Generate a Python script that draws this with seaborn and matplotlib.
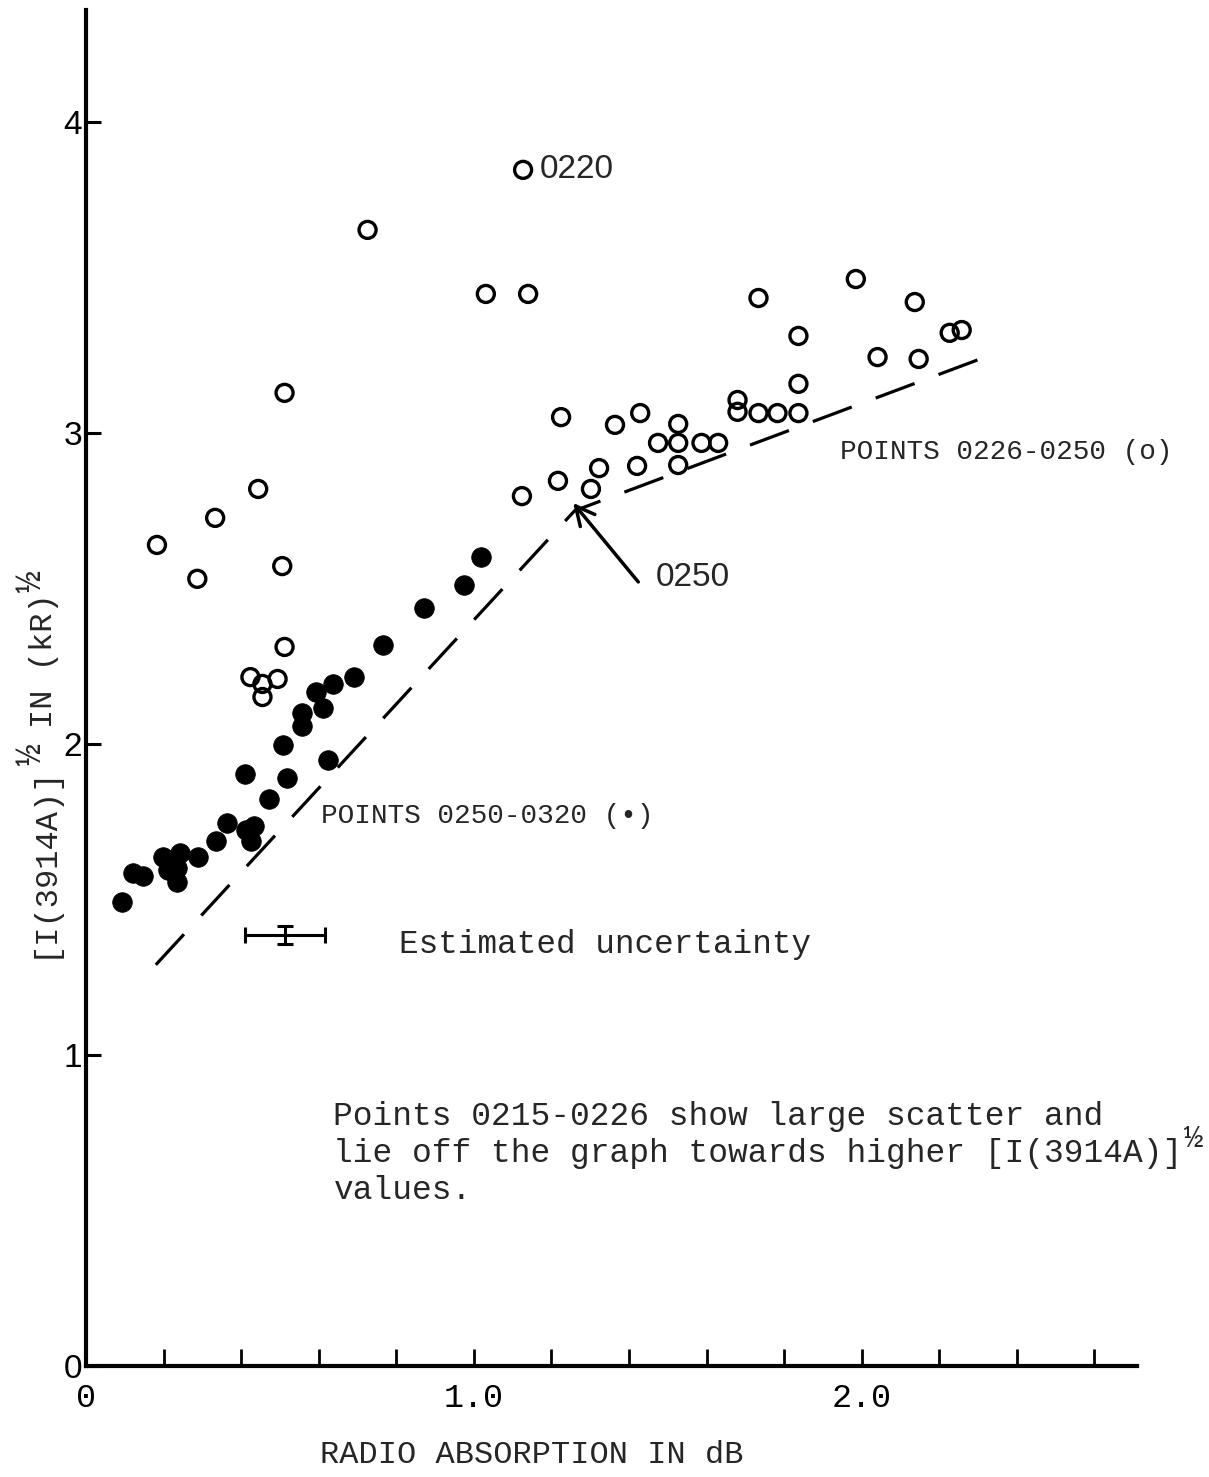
import matplotlib
matplotlib.use("Agg")
import matplotlib.pyplot as plt
import matplotlib.transforms as mtransforms
import seaborn as sns
import pandas as pd

# ---------------- data ----------------
open_x = [1.127, 0.726, 1.031, 1.140, 0.512, 0.444, 0.333, 0.183, 0.287, 0.506,
          0.512, 0.424, 0.455, 0.455, 0.494,
          1.225, 1.124, 1.217, 1.302, 1.323, 1.364, 1.429, 1.421, 1.475, 1.527,
          1.527, 1.527, 1.587, 1.630, 1.680, 1.680, 1.734, 1.783, 1.837, 1.837,
          1.837, 1.734, 1.985, 2.041, 2.137, 2.147, 2.227, 2.258]
open_y = [3.846, 3.653, 3.447, 3.447, 3.129, 2.820, 2.727, 2.640, 2.531, 2.572,
          2.312, 2.215, 2.193, 2.151, 2.209,
          3.051, 2.797, 2.846, 2.820, 2.887, 3.026, 3.064, 2.894, 2.968, 2.968,
          3.029, 2.897, 2.968, 2.968, 3.106, 3.068, 3.064, 3.064, 3.064, 3.158,
          3.312, 3.434, 3.495, 3.244, 3.421, 3.238, 3.322, 3.331]

filled_x = [0.093, 0.121, 0.147, 0.199, 0.212, 0.243, 0.235, 0.235, 0.289, 0.336,
            0.364, 0.413, 0.432, 0.426, 0.411, 0.473, 0.509, 0.517, 0.556, 0.556,
            0.594, 0.612, 0.636, 0.625, 0.690, 0.767, 0.871, 0.974, 1.018]
filled_y = [1.492, 1.585, 1.576, 1.637, 1.595, 1.649, 1.601, 1.556, 1.637, 1.688,
            1.746, 1.723, 1.736, 1.688, 1.904, 1.823, 1.997, 1.891, 2.100, 2.058,
            2.167, 2.116, 2.193, 1.949, 2.215, 2.318, 2.437, 2.511, 2.601]

line_x = [0.18, 1.26, 2.31]
line_y = [1.29, 2.75, 3.24]

x_ticks = [0, 0.2, 0.4, 0.6, 0.8, 1.0, 1.2, 1.4, 1.6, 1.8, 2.0, 2.2, 2.4, 2.6]
x_tick_labels = ["0", "", "", "", "", "1.0", "", "", "", "", "2.0", "", "", ""]
y_ticks = [0, 1, 2, 3, 4]
y_tick_labels = ["0", "1", "2", "3", "4"]

unc_x, unc_y, unc_dx, unc_dy = 0.514, 1.386, 0.103, 0.03

note_lines = ["Points 0215-0226 show large scatter and",
              "lie off the graph towards higher [I(3914A)]",
              "values."]
HALF = "\u00bd"
ylab_parts = [(0, "[I(3914A)]"), (10, HALF), (12, "IN (kR)"), (19, HALF)]

# ---------------- style ----------------
sns.set_theme(style="ticks")
MONO = ["Liberation Mono", "DejaVu Sans Mono"]
SANS = ["Liberation Sans", "DejaVu Sans"]
plt.rcParams["font.family"] = MONO

fig = plt.figure(figsize=(12.09, 14.77), dpi=100)
ax = fig.add_axes([86 / 1209, 111 / 1477, (1137 - 86) / 1209, (1366 - 10) / 1477])

df_open = pd.DataFrame({"x": open_x, "y": open_y})
df_filled = pd.DataFrame({"x": filled_x, "y": filled_y})
df_line = pd.DataFrame({"x": line_x, "y": line_y})

sns.lineplot(data=df_line, x="x", y="y", ax=ax, color="black", lw=2.3,
             linestyle=(0, (13, 8)), estimator=None, sort=False)
sns.scatterplot(data=df_open, x="x", y="y", ax=ax, marker="o", s=150,
                facecolor="none", edgecolor="black", linewidth=2.4, zorder=3)
sns.scatterplot(data=df_filled, x="x", y="y", ax=ax, marker="o", s=200,
                color="black", edgecolor="black", linewidth=0.5, zorder=3)

ax.set_xlim(0, 2.71)
ax.set_ylim(0, 4.36)
ax.set_xlabel("")
ax.set_ylabel("")
sns.despine(ax=ax, top=True, right=True)
for s in ["left", "bottom"]:
    ax.spines[s].set_linewidth(3.0)
    ax.spines[s].set_color("black")

ax.set_xticks(x_ticks)
ax.set_xticklabels(x_tick_labels, fontfamily=MONO, fontsize=24)
ax.set_yticks(y_ticks)
ax.set_yticklabels(y_tick_labels, fontfamily=SANS, fontsize=24)
ax.tick_params(axis="x", direction="in", length=12, width=2, pad=12, colors="black")
ax.tick_params(axis="y", direction="in", length=11, width=2.2, pad=3, colors="black")

# uncertainty bar
ax.errorbar([unc_x], [unc_y], xerr=[unc_dx], yerr=[unc_dy], fmt="none",
            ecolor="black", elinewidth=2.2, capsize=6, capthick=2.2)

# annotations
ax.text(1.17, 3.846, "0220", fontfamily=SANS, fontsize=24, ha="left", va="center")
ax.annotate("", xy=(1.256, 2.775), xytext=(1.424, 2.521),
            arrowprops=dict(arrowstyle="->", lw=2.5, color="black",
                            mutation_scale=34, shrinkA=0, shrinkB=0))
ax.text(1.47, 2.535, "0250", fontfamily=SANS, fontsize=24, ha="left", va="center")
ax.text(1.943, 2.94, "POINTS 0226-0250 (o)", fontsize=20, ha="left", va="center")
ax.text(0.605, 1.77, "POINTS 0250-0320 (\u2022)", fontsize=20, ha="left", va="center")
ax.text(0.806, 1.355, "Estimated uncertainty", fontsize=23.5, ha="left", va="center")

# note block (typed text, three lines)
NOTE_FS = 23.7
note_x = 0.638
note_base = [0.775, 0.656, 0.537]
for txt, yb in zip(note_lines, note_base):
    ax.text(note_x, yb, txt, fontsize=NOTE_FS, ha="left", va="baseline")
half_tr = mtransforms.offset_copy(ax.transData, fig=fig,
                                  x=len(note_lines[1]) * 0.6 * NOTE_FS + 1, y=11,
                                  units="points")
ax.text(note_x, note_base[1], HALF, fontsize=23, ha="left", va="baseline",
        transform=half_tr)

# y label: rotated typed text with raised halves
YL_FS = 23
cw = 0.6 * YL_FS
bx, by = 52 / 1209, (1477 - 958) / 1477
for idx, part in ylab_parts:
    is_half = part == HALF
    tr = mtransforms.offset_copy(fig.transFigure, fig=fig,
                                 x=-8 if is_half else 0,
                                 y=idx * cw + (1 if is_half else 0),
                                 units="points")
    fig.text(bx, by, part, rotation=90, rotation_mode="anchor",
             fontsize=26 if is_half else YL_FS, ha="left", va="baseline",
             transform=tr)

fig.text(532 / 1209, 1 - 1455 / 1477, "RADIO ABSORPTION IN dB",
         fontsize=23, ha="center", va="center")

fig.savefig("out.png", dpi=100, facecolor="white")
